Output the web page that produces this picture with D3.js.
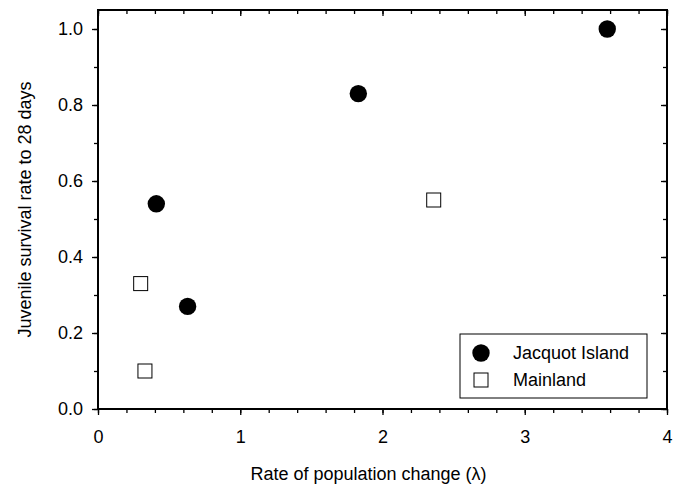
<!DOCTYPE html>
<html>
<head>
<meta charset="utf-8">
<script src="https://cdn.jsdelivr.net/npm/d3@7"></script>
<style>
  body { margin: 0; background: #fff; }
  svg { font-family: Arial, "Liberation Sans", sans-serif; }
</style>
</head>
<body>
<svg id="chart" width="678" height="487"></svg>
<script>
// Jacquot Island (filled circles)
const islandX = [0.41, 0.63, 1.83, 3.58];
const islandY = [0.54, 0.27, 0.83, 1.00];
// Mainland (open squares)
const mainlandX = [0.30, 0.33, 2.36];
const mainlandY = [0.33, 0.10, 0.55];

const xTicks = [0, 1, 2, 3, 4];
const yTicks = [0.0, 0.2, 0.4, 0.6, 0.8, 1.0];
const seriesNames = ['Jacquot Island', 'Mainland'];

const svg = d3.select('#chart');
const plotLeft = 98, plotRight = 667, plotTop = 10, plotBottom = 409;
const fontSize = '18px';

const x = d3.scaleLinear().domain([0, 4]).range([plotLeft, plotRight]);
const y = d3.scaleLinear().domain([0, 1.05]).range([plotBottom, plotTop]);

// Axes: major + minor ticks outward on bottom/left
const xMinor = d3.range(0, 4.001, 0.2);
const yMinor = d3.range(0, 1.001, 0.1);

const styleTicks = g => {
    g.select('.domain').remove();
    g.selectAll('line').attr('stroke-width', 1.3);
};

svg.append('g')
    .attr('transform', `translate(0,${plotBottom})`)
    .call(d3.axisBottom(x).tickValues(xMinor).tickSize(4).tickFormat(''))
    .call(styleTicks);
svg.append('g')
    .attr('transform', `translate(0,${plotBottom})`)
    .call(d3.axisBottom(x).tickValues(xTicks).tickSize(6).tickPadding(15).tickFormat(d3.format('d')))
    .call(styleTicks)
    .call(g => g.selectAll('text').style('font-size', fontSize).attr('fill', '#000'));

svg.append('g')
    .attr('transform', `translate(${plotLeft},0)`)
    .call(d3.axisLeft(y).tickValues(yMinor).tickSize(4).tickFormat(''))
    .call(styleTicks);
svg.append('g')
    .attr('transform', `translate(${plotLeft},0)`)
    .call(d3.axisLeft(y).tickValues(yTicks).tickSize(6).tickPadding(9).tickFormat(d3.format('.1f')))
    .call(styleTicks)
    .call(g => g.selectAll('text').style('font-size', fontSize).attr('fill', '#000'));

// Inward ticks on top and right
svg.append('g')
    .attr('transform', `translate(0,${plotTop})`)
    .call(d3.axisBottom(x).tickValues(xMinor).tickSize(4).tickFormat(''))
    .call(styleTicks);
svg.append('g')
    .attr('transform', `translate(0,${plotTop})`)
    .call(d3.axisBottom(x).tickValues(xTicks).tickSize(6).tickFormat(''))
    .call(styleTicks);
svg.append('g')
    .attr('transform', `translate(${plotRight},0)`)
    .call(d3.axisLeft(y).tickValues(yMinor).tickSize(4).tickFormat(''))
    .call(styleTicks);
svg.append('g')
    .attr('transform', `translate(${plotRight},0)`)
    .call(d3.axisLeft(y).tickValues(yTicks).tickSize(6).tickFormat(''))
    .call(styleTicks);

// Frame
svg.append('rect')
    .attr('x', plotLeft).attr('y', plotTop)
    .attr('width', plotRight - plotLeft).attr('height', plotBottom - plotTop)
    .attr('fill', 'none').attr('stroke', '#000').attr('stroke-width', 2);

// Axis titles
svg.append('text')
    .attr('x', (plotLeft + plotRight) / 2 - 14).attr('y', 480)
    .attr('text-anchor', 'middle').style('font-size', fontSize)
    .text('Rate of population change (λ)');
svg.append('text')
    .attr('transform', `translate(31,${(plotTop + plotBottom) / 2}) rotate(-90)`)
    .attr('text-anchor', 'middle').style('font-size', fontSize)
    .text('Juvenile survival rate to 28 days');

// Points
svg.append('g').selectAll('rect')
    .data(d3.zip(mainlandX, mainlandY))
    .join('rect')
    .attr('x', d => x(d[0]) - 7)
    .attr('y', d => y(d[1]) - 7)
    .attr('width', 14).attr('height', 14)
    .attr('fill', '#fff').attr('stroke', '#000').attr('stroke-width', 1);

svg.append('g').selectAll('circle')
    .data(d3.zip(islandX, islandY))
    .join('circle')
    .attr('cx', d => x(d[0]))
    .attr('cy', d => y(d[1]))
    .attr('r', 8.7)
    .attr('fill', '#000');

// Legend
const legend = svg.append('g');
legend.append('rect')
    .attr('x', 460).attr('y', 334).attr('width', 187).attr('height', 64)
    .attr('fill', '#fff').attr('stroke', '#000').attr('stroke-width', 1);
legend.append('circle')
    .attr('cx', 481).attr('cy', 353).attr('r', 8.7).attr('fill', '#000');
legend.append('rect')
    .attr('x', 474).attr('y', 373).attr('width', 14).attr('height', 14)
    .attr('fill', '#fff').attr('stroke', '#000');
legend.selectAll('text')
    .data(seriesNames)
    .join('text')
    .attr('x', 513)
    .attr('y', (d, i) => 359 + i * 27)
    .style('font-size', fontSize)
    .text(d => d);
</script>
</body>
</html>
